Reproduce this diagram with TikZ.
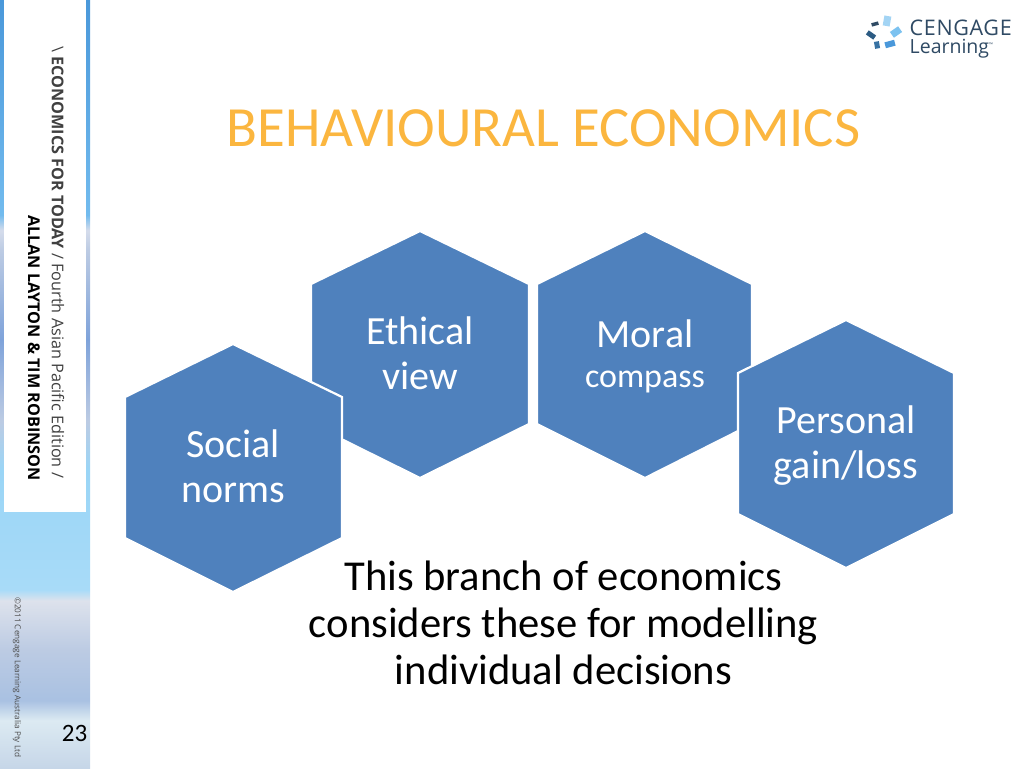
\documentclass[tikz,border=0pt]{standalone}
\usepackage{fontspec}
\setmainfont{Carlito}
\newfontfamily\sidefont{Open Sans}
\definecolor{hexblue}{HTML}{4F81BD}
\definecolor{titleor}{HTML}{FBB63F}
\definecolor{logotxt}{HTML}{2F4A64}
\definecolor{sa}{HTML}{4A98DA}
\definecolor{sb}{HTML}{7CC2F0}
\definecolor{sideA}{HTML}{C6D6E8}
\definecolor{sideB}{HTML}{DCEAF2}
\definecolor{sideC}{HTML}{A9C1E2}
\definecolor{sideD}{HTML}{BCCBE3}
\definecolor{sideE}{HTML}{DDE2EC}
\definecolor{sideF}{HTML}{A8DBF8}
\definecolor{sideG}{HTML}{9AD5F6}
\definecolor{sideH}{HTML}{7FA3DA}
\definecolor{sideI}{HTML}{D5DCEB}
\definecolor{sideJ}{HTML}{72BBEE}
\definecolor{sideK}{HTML}{4A98DA}
\pgfdeclareverticalshading{sidesky}{100bp}{%
  color(0bp)=(sideA);
  color(25bp)=(sideA);
  color(28.1bp)=(sideB);
  color(29.4bp)=(sideC);
  color(32.7bp)=(sideD);
  color(35.9bp)=(sideE);
  color(36.6bp)=(sideF);
  color(44.4bp)=(sideG);
  color(47.6bp)=(sideD);
  color(52.9bp)=(sideH);
  color(58.7bp)=(sideD);
  color(60bp)=(sideI);
  color(61bp)=(sideJ);
  color(75bp)=(sideK);
  color(100bp)=(sideK)}
\tikzset{
  hexa/.style={fill=hexblue,draw=white,line width=2.2pt,line join=miter},
  hextext/.style={text=white,align=center,font=\fontsize{40}{45}\selectfont},
  logotile/.style={rotate=#1,minimum width=0pt,inner sep=0pt,outer sep=0pt}
}
\begin{document}
\begin{tikzpicture}[x=1pt,y=-1pt]
\useasboundingbox (0,0) rectangle (1024,768);
\fill[white] (0,0) rectangle (1024,768);
% sidebar
\shade[shading=sidesky] (0,0) rectangle (90,768);
\fill[white] (4,0) rectangle (86,512);
% sidebar text
\node[rotate=-90,anchor=west,inner sep=0pt,text=black!75,font=\sidefont\fontsize{16.2}{18}\selectfont] (spine1) at (58,46) {\textbackslash\ \textbf{ECONOMICS FOR TODAY} / Fourth Asian Pacific Edition /};
\node[rotate=-90,anchor=west,inner sep=0pt,text=black,font=\sidefont\bfseries\fontsize{16.2}{18}\selectfont] (spine2) at (34,215) {ALLAN LAYTON \& TIM ROBINSON};
\node[rotate=-90,anchor=west,inner sep=0pt,text=black!70,font=\sidefont\fontsize{8.2}{10}\selectfont] (copy) at (17,597) {©2011 Cengage Learning Australia Pty Ltd};
\node[anchor=center,inner sep=0pt,font=\fontsize{25}{30}\selectfont] (pageno) at (74.5,733) {23};
% logo
\node[logotile=-10,fill=sb!70!white,minimum width=7pt,minimum height=10pt] (t1) at (887,21) {};
\node[logotile=-55,fill=sb,minimum width=7pt,minimum height=10pt] (t2) at (896,32) {};
\node[logotile=15,fill=sa,minimum width=10pt,minimum height=6pt] (t3) at (890,44) {};
\node[logotile=-80,fill=sa!75!black,minimum width=7pt,minimum height=5pt] (t4) at (877,45) {};
\node[logotile=-35,fill=sa!60!black,minimum width=9pt,minimum height=5pt] (t5) at (871,35) {};
\node[logotile=15,fill=logotxt,minimum width=7pt,minimum height=3.5pt] (t6) at (875,24) {};
\node[anchor=west,inner sep=0pt,text=logotxt,font=\sidefont\fontsize{21.5}{24}\selectfont] (cengage) at (909.5,27.5) {\addfontfeature{LetterSpace=3}CENGAGE};
\node[anchor=west,inner sep=0pt,text=logotxt,font=\sidefont\fontsize{19.5}{22}\selectfont] (learning) at (909.5,49) {Learning\textsuperscript{\tiny ™}};
% title
\node[text=titleor,inner sep=0pt,font=\fontsize{56.8}{62}\selectfont] (title) at (543.5,128) {BEHAVIOURAL ECONOMICS};
% hexagons
\path[hexa] (420,231) -- (529,284) -- (529,424) -- (420,478) -- (311,424) -- (311,284) -- cycle;
\path[hexa] (645,231) -- (752,284) -- (752,424) -- (645,478) -- (537,424) -- (537,284) -- cycle;
\path[hexa] (233,344) -- (342,397) -- (342,538) -- (233,592) -- (125,538) -- (125,397) -- cycle;
\path[hexa] (846,320) -- (954,373) -- (954,514) -- (846,568) -- (738,514) -- (738,373) -- cycle;
\node[hextext] (ethical) at (420,353.5) {Ethical\\view};
\node[hextext] (moral) at (645,356.5) {Moral\\[-5pt]{\fontsize{34}{38}\selectfont compass}};
\node[hextext] (social) at (233,466.5) {Social\\norms};
\node[hextext] (personal) at (846,446) {Personal\\gain/loss};
\node[align=center,inner sep=0pt,font=\fontsize{42.6}{47}\selectfont] (body) at (563.5,623) {This branch of economics\\considers these for modelling\\individual decisions};
\end{tikzpicture}
\end{document}
